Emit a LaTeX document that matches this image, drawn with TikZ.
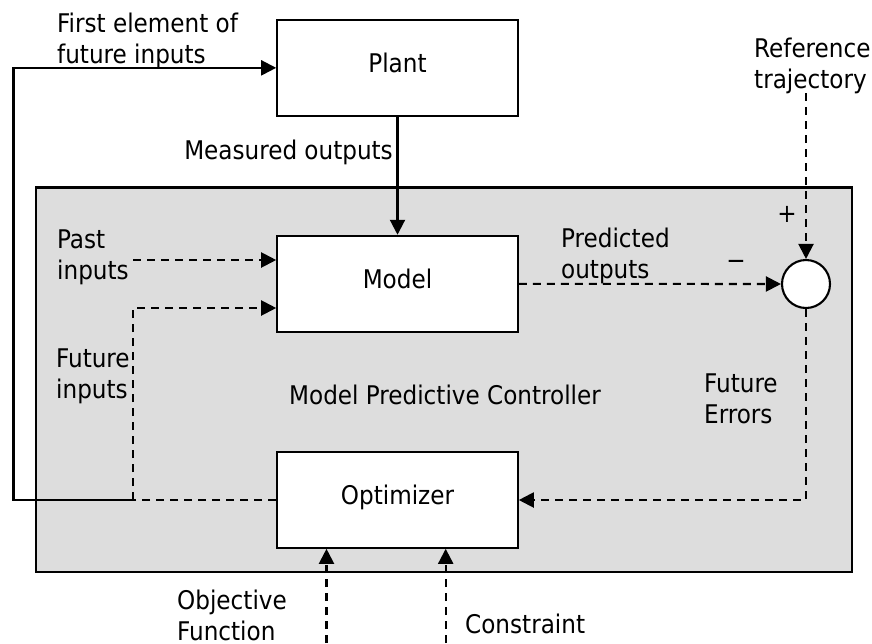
\documentclass[tikz,border=0pt]{standalone}
\usepackage{fontspec}
\setmainfont{DejaVu Sans Condensed}
\usetikzlibrary{arrows.meta}
\definecolor{panelgray}{RGB}{221,221,221}

\begin{document}
\begin{tikzpicture}[x=1pt,y=-1pt,
  every node/.style={font=\fontsize{25.7}{31}\selectfont, inner sep=0pt},
  blockbox/.style={draw, line width=2.1pt, fill=white, minimum width=240.5pt,
    text height=18pt, text depth=9pt},
  lbl/.style={anchor=base west, align=left},
  wire/.style={line width=2.1pt},
  sig/.style={wire, -{Triangle[length=15pt,width=15pt]}},
  dsig/.style={sig, dash pattern=on 8pt off 6pt},
  dwire/.style={wire, dash pattern=on 8pt off 6pt}]
\useasboundingbox (0,0) rectangle (872,643);

% controller panel
\node[draw, line width=2.1pt, fill=panelgray, minimum width=816pt,
  minimum height=384.5pt] (mpc) at (444,379.75) {};

% blocks
\node[blockbox, minimum height=95.7pt] (plant) at (397.5,67.85) {Plant};
\node[blockbox, minimum height=96pt] (model) at (397.5,283.8) {Model};
\node[blockbox, minimum height=95.5pt] (opt) at (397.5,500) {Optimizer};
\node[draw, circle, fill=white, line width=2.1pt, minimum size=48pt] (sum) at (806,284) {};

% connector end points
\coordinate (jn)  at (133.3,500);
\coordinate (fbl) at (13.5,500);
\coordinate (fbt) at (13.5,67.85);
\coordinate (past) at (133.3,260);
\coordinate (fin) at (133.3,308);
\coordinate (ref) at (806,93);
\coordinate (err) at (806,500);
\coordinate (obj) at (326.5,643);
\coordinate (con) at (445.7,643);

% connectors
\draw[sig] (plant.south) -- (model.north);
\draw[sig] (jn) -- (fbl) -- (fbt) -- (plant.west);
\draw[dwire] (opt.west) -- (jn);
\draw[dsig] (jn) -- (fin) -- (fin -| model.west);
\draw[dsig] (past) -- (past -| model.west);
\draw[dsig] (model.east) -- (sum.west);
\draw[dsig] (ref) -- (sum.north);
\draw[dsig] (sum.south) -- (err) -- (opt.east);
\draw[dsig] (obj) -- (obj |- opt.south);
\draw[dsig] (con) -- (con |- opt.south);

% labels (two-line labels are placed by the baseline of their last line)
\node[lbl] (lfirst) at (57,63) {First element of\\future inputs};
\node[anchor=base east] (lmeas) at (393,159) {Measured outputs};
\node[lbl] (lpast) at (57,279) {Past\\inputs};
\node[lbl] (lfut) at (56,398.5) {Future\\inputs};
\node[lbl] (lpred) at (561,278.5) {Predicted\\outputs};
\node[lbl] (lref) at (754,88) {Reference\\trajectory};
\node[lbl] (lerr) at (704,423) {Future\\Errors};
\node[lbl] (lmpc) at (289,404) {Model Predictive Controller};
\node[lbl] (lobj) at (177,640) {Objective\\Function};
\node[lbl] (lcon) at (465,633) {Constraint};
\node (lplus) at (787,214) {+};
\node (lminus) at (736,265) {−};
\end{tikzpicture}
\end{document}
